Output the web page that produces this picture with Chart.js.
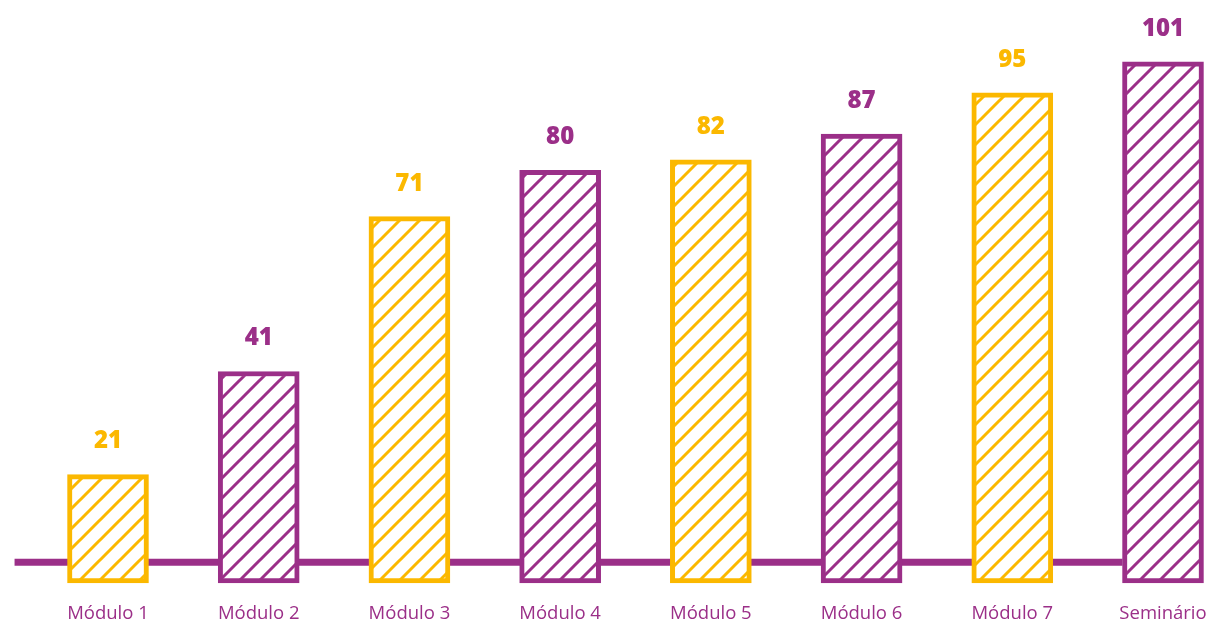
<!DOCTYPE html>
<html>
<head>
<meta charset="utf-8">
<script src="https://cdn.jsdelivr.net/npm/chart.js@4"></script>
<style>
    html, body { margin: 0; padding: 0; background: #ffffff; }
    #wrap { width: 1210px; height: 621px; }
</style>
</head>
<body>
<div id="wrap"><canvas id="chart"></canvas></div>
<script>
// 데이터
const categories = ['Módulo 1', 'Módulo 2', 'Módulo 3', 'Módulo 4', 'Módulo 5', 'Módulo 6', 'Módulo 7', 'Seminário'];
const values = [21, 41, 71, 80, 82, 87, 95, 101];

const YELLOW = '#FBB800';
const PURPLE = '#9B2F88';
const barColors = values.map((v, i) => i % 2 === 0 ? YELLOW : PURPLE);

// 빗금 패턴
function makeHatch(color) {
    const s = 20;
    const c = document.createElement('canvas');
    c.width = s;
    c.height = s;
    const g = c.getContext('2d');
    g.fillStyle = '#ffffff';
    g.fillRect(0, 0, s, s);
    g.strokeStyle = color;
    g.lineWidth = 3;
    g.beginPath();
    g.moveTo(0, s); g.lineTo(s, 0);
    g.moveTo(-s / 2, s / 2); g.lineTo(s / 2, -s / 2);
    g.moveTo(s / 2, s * 1.5); g.lineTo(s * 1.5, s / 2);
    g.stroke();
    return g.createPattern(c, 'repeat');
}
const fills = barColors.map(makeHatch);

// 기준선 (막대 뒤)
const baseLine = {
    id: 'baseLine',
    beforeDatasetsDraw(chart) {
        const ctx = chart.ctx;
        const x = chart.scales.x;
        const y = chart.scales.y;
        const meta = chart.getDatasetMeta(0);
        const step = x.getPixelForValue(1) - x.getPixelForValue(0);
        const last = meta.data[meta.data.length - 1];
        const yy = y.getPixelForValue(4);
        ctx.save();
        ctx.strokeStyle = PURPLE;
        ctx.lineWidth = 7;
        ctx.beginPath();
        ctx.moveTo(x.getPixelForValue(0) - step * 0.62, yy);
        ctx.lineTo(last.x - last.width / 2, yy);
        ctx.stroke();
        ctx.restore();
    }
};

// 값 표시
const valueLabels = {
    id: 'valueLabels',
    afterDatasetsDraw(chart) {
        const ctx = chart.ctx;
        const meta = chart.getDatasetMeta(0);
        ctx.save();
        ctx.font = '800 24px "Open Sans", sans-serif';
        ctx.textAlign = 'center';
        ctx.textBaseline = 'middle';
        meta.data.forEach((bar, i) => {
            ctx.fillStyle = barColors[i];
            ctx.fillText(String(values[i]), bar.x, bar.y - 33);
        });
        ctx.restore();
    }
};

new Chart(document.getElementById('chart'), {
    type: 'bar',
    data: {
        labels: categories,
        datasets: [{
            data: values,
            backgroundColor: fills,
            borderColor: barColors,
            borderWidth: 5,
            borderSkipped: false,
            barThickness: 81,
            clip: false
        }]
    },
    options: {
        responsive: true,
        maintainAspectRatio: false,
        animation: false,
        layout: {
            padding: { left: 108, right: 47, top: 0, bottom: 0 }
        },
        plugins: {
            legend: { display: false },
            tooltip: { enabled: false }
        },
        scales: {
            x: {
                offset: false,
                grid: { display: false, drawTicks: false },
                border: { display: false },
                ticks: {
                    color: PURPLE,
                    font: { family: '"Open Sans", sans-serif', size: 18.5 },
                    padding: 20,
                    maxRotation: 0,
                    autoSkip: false
                },
                afterFit(scale) {
                    scale.height = 38;
                    scale.paddingLeft = 0;
                    scale.paddingRight = 0;
                }
            },
            y: {
                display: false,
                min: 0,
                max: 113
            }
        }
    },
    plugins: [baseLine, valueLabels]
});
</script>
</body>
</html>
